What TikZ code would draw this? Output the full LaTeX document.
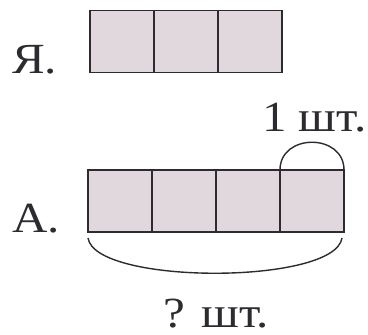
\documentclass[tikz,border=0pt]{standalone}
\usepackage{fontspec}
\setmainfont[FakeStretch=1.14]{Liberation Serif}
\definecolor{cellfill}{RGB}{224,216,220}
\definecolor{inkgray}{RGB}{45,42,48}

\begin{document}
\begin{tikzpicture}[x=1pt, y=-1pt,
  cell/.style={draw=inkgray, line width=1.6pt, fill=cellfill, minimum width=64pt,
               minimum height=62pt, inner sep=0pt, outer sep=0pt},
  lbl/.style={text=inkgray, font=\fontsize{43}{45}\selectfont, inner sep=0pt, anchor=base west},
  brace/.style={draw=inkgray, line width=1.4pt}
]
  \useasboundingbox (0,0) rectangle (368,335);

  \node[lbl] (ya) at (12,73) {Я.};
  \node[cell] (y1) at (122,41.5) {};
  \node[cell] (y2) at (186,41.5) {};
  \node[cell] (y3) at (250,41.5) {};

  \node[lbl] (one) at (262,131) {1 шт.};

  \node[lbl] (aa) at (12,232) {А.};
  \node[cell] (a1) at (120,201) {};
  \node[cell] (a2) at (184,201) {};
  \node[cell] (a3) at (248,201) {};
  \node[cell] (a4) at (312,201) {};

  \draw[brace] (a4.north west) .. controls +(0,-37) and +(0,-37) .. (a4.north east);
  \draw[brace] ([yshift=-6pt]a1.south west) .. controls +(7,47) and +(-7,47) .. ([xshift=-2pt, yshift=-6pt]a4.south east);

  \node[lbl] (total) at (163,327) {? шт.};
\end{tikzpicture}
\end{document}
